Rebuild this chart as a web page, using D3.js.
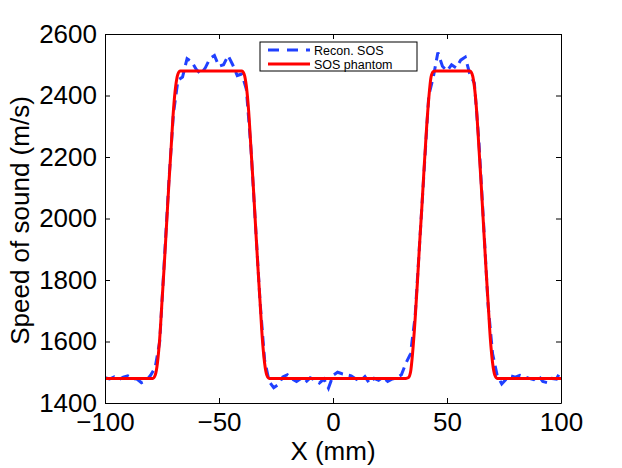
<!DOCTYPE html>
<html>
<head>
<meta charset="utf-8">
<script src="https://cdn.jsdelivr.net/npm/d3@7"></script>
<style>
  body { margin: 0; background: #fff; }
  text { font-family: "Liberation Sans", Arial, sans-serif; }
</style>
</head>
<body>
<script>
// sample positions (mm) and values (m/s)
var phantomX = [-100, -79, -78, -77, -76, -75, -74, -73, -72, -71, -70, -69, -68, -67,
  -40, -39, -38, -37, -36, -35, -34, -33, -32, -31, -30, -29, -28,
  32, 33, 34, 35, 36, 37, 38, 39, 40, 41, 42, 43, 44, 45,
  60, 61, 62, 63, 64, 65, 66, 67, 68, 69, 70, 71, 72, 100];
var phantomV = [1480, 1480, 1490, 1530, 1610, 1730, 1850, 1980, 2110, 2230, 2350, 2430, 2470, 2480,
  2480, 2470, 2430, 2350, 2230, 2110, 1980, 1850, 1730, 1610, 1530, 1490, 1480,
  1480, 1482, 1500, 1570, 1670, 1790, 1920, 2040, 2170, 2290, 2390, 2460, 2478, 2480,
  2480, 2470, 2430, 2350, 2230, 2110, 1980, 1850, 1730, 1610, 1530, 1490, 1480, 1480];

var reconX = d3.range(-100, 101, 2);
var reconV = [1482, 1478, 1485, 1476, 1484, 1488, 1480, 1478, 1466, 1472,
  1490, 1515, 1600, 1860, 2120, 2340, 2450, 2460, 2520, 2510,
  2485, 2470, 2490, 2520, 2530, 2495, 2500, 2530, 2500, 2465,
  2470, 2420, 2230, 1980, 1730, 1540, 1470, 1450, 1460, 1485,
  1492, 1478, 1470, 1480, 1468, 1482, 1475, 1465, 1478, 1448,
  1490, 1500, 1495, 1492, 1488, 1478, 1472, 1486, 1464, 1480,
  1474, 1484, 1470, 1478, 1482, 1492, 1530, 1560, 1680, 1920,
  2160, 2400, 2460, 2540, 2495, 2480, 2500, 2490, 2515, 2525,
  2470, 2440, 2250, 1990, 1720, 1560, 1490, 1462, 1478, 1488,
  1484, 1490, 1486, 1480, 1476, 1490, 1470, 1466, 1480, 1478, 1505];

var xTicks = [-100, -50, 0, 50, 100];
var yTicks = [1400, 1600, 1800, 2000, 2200, 2400, 2600];
var legendNames = ["Recon. SOS", "SOS phantom"];

var W = 622, H = 468;
var mLeft = 105, mRight = 561, mTop = 34, mBottom = 403;

var svg = d3.select("body").append("svg").attr("width", W).attr("height", H);

var x = d3.scaleLinear().domain([-100, 100]).range([mLeft, mRight]);
var y = d3.scaleLinear().domain([1400, 2600]).range([mBottom, mTop]);

svg.append("defs").append("clipPath").attr("id", "clip")
  .append("rect").attr("x", mLeft).attr("y", mTop).attr("width", mRight - mLeft).attr("height", mBottom - mTop);

var line = d3.line().x(function(d){ return x(d[0]); }).y(function(d){ return y(d[1]); });
var smooth = d3.line().curve(d3.curveMonotoneX).x(function(d){ return x(d[0]); }).y(function(d){ return y(d[1]); });

var g = svg.append("g").attr("clip-path", "url(#clip)");

g.append("path")
  .datum(d3.zip(reconX, reconV))
  .attr("d", line)
  .attr("fill", "none")
  .attr("stroke", "#2040ff")
  .attr("stroke-width", 3)
  .attr("stroke-dasharray", "10,6");

g.append("path")
  .datum(d3.zip(phantomX, phantomV))
  .attr("d", smooth)
  .attr("fill", "none")
  .attr("stroke", "#ff0000")
  .attr("stroke-width", 3);

// axes, MATLAB style: box with inward ticks on all sides
var tl = 5;
svg.append("g").attr("transform", "translate(0," + mBottom + ")")
  .call(d3.axisBottom(x).tickValues(xTicks).tickSizeInner(-tl).tickSizeOuter(0).tickPadding(10)
    .tickFormat(function(d){ return String(d).replace("-", "\u2212"); }));
svg.append("g").attr("transform", "translate(0," + mTop + ")")
  .call(d3.axisTop(x).tickValues(xTicks).tickSizeInner(-tl).tickSizeOuter(0).tickFormat(""));
svg.append("g").attr("transform", "translate(" + mLeft + ",0)")
  .call(d3.axisLeft(y).tickValues(yTicks).tickSizeInner(-tl).tickSizeOuter(0).tickPadding(8)
    .tickFormat(d3.format("d")));
svg.append("g").attr("transform", "translate(" + mRight + ",0)")
  .call(d3.axisRight(y).tickValues(yTicks).tickSizeInner(-tl).tickSizeOuter(0).tickFormat(""));

svg.selectAll(".tick text").attr("font-size", 26).attr("font-family", "Liberation Sans, Arial, sans-serif").attr("fill", "#000");
svg.selectAll(".domain").attr("stroke", "#000");
svg.selectAll(".tick line").attr("stroke", "#000");

svg.append("text")
  .attr("x", (mLeft + mRight) / 2).attr("y", 460)
  .attr("text-anchor", "middle").attr("font-size", 26)
  .text("X (mm)");

svg.append("text")
  .attr("transform", "translate(29," + ((mTop + mBottom) / 2 + 2) + ") rotate(-90)")
  .attr("text-anchor", "middle").attr("font-size", 26)
  .text("Speed of sound (m/s)");

// legend
var lg = svg.append("g").attr("transform", "translate(260,42)");
lg.append("rect").attr("width", 157).attr("height", 29)
  .attr("fill", "#fff").attr("stroke", "#000").attr("stroke-width", 1);
var item = lg.selectAll("g.item").data(legendNames).enter().append("g")
  .attr("class", "item")
  .attr("transform", function(d, i){ return "translate(0," + (8 + i * 14) + ")"; });
item.append("line")
  .attr("x1", 8).attr("x2", 50).attr("y1", 0).attr("y2", 0)
  .attr("stroke", function(d, i){ return i === 0 ? "#2040ff" : "#ff0000"; })
  .attr("stroke-width", 3)
  .attr("stroke-dasharray", function(d, i){ return i === 0 ? "11,8" : null; });
item.append("text")
  .attr("x", 54).attr("y", 4.5)
  .attr("font-size", 12.5)
  .text(function(d){ return d; });
</script>
</body>
</html>
